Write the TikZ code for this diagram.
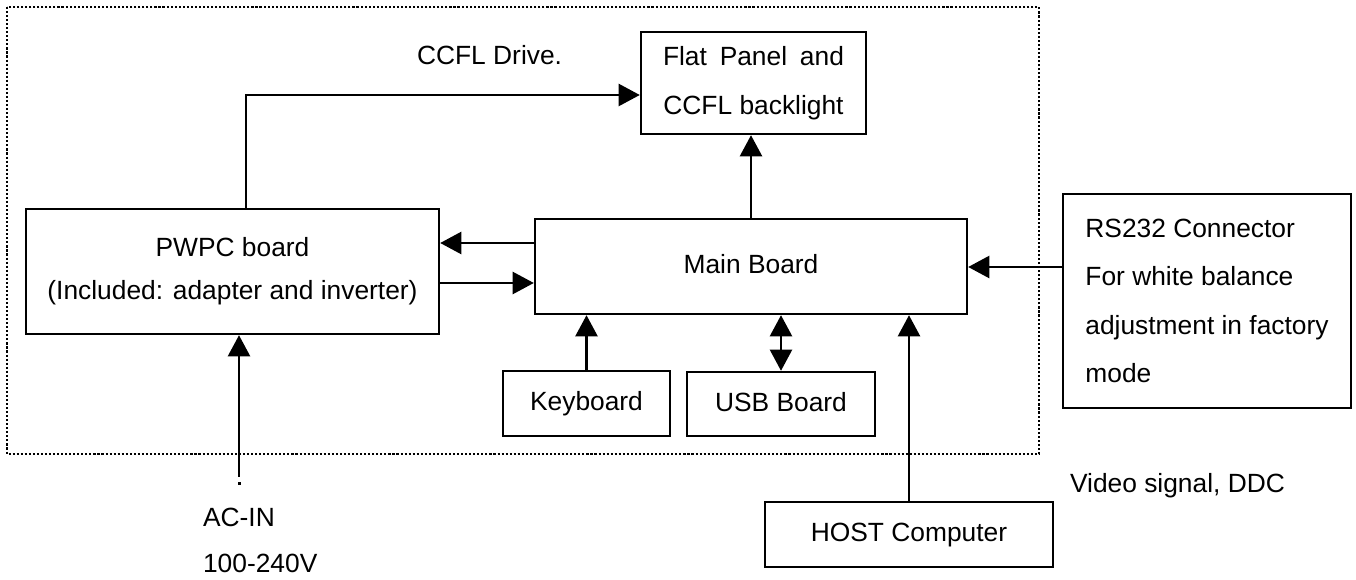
\documentclass[tikz,border=0pt]{standalone}
\usepackage{fontspec}
\setmainfont{Liberation Sans}
\usetikzlibrary{arrows.meta}
\begin{document}
\begin{tikzpicture}[x=0.02cm, y=-0.02cm, line width=1.4pt, >={Triangle[length=12pt,width=12.5pt]},
every node/.style={font=\fontsize{15}{18}\selectfont},
box node/.style={rectangle,draw,inner sep=0pt,align=center},
one line/.style={text height=1.6ex,text depth=0pt}]
\useasboundingbox (0,0) rectangle (1356,580);
\draw[line width=1.2pt, dash pattern=on 1.2pt off 1.1pt] (7,7) rectangle (1039,454);
\begin{scope}
\node[box node, minimum width=4.5cm, minimum height=2.04cm, font=\fontsize{15}{27.8}\selectfont] (flat) at (753.5,83) {\makebox[3.62cm][s]{Flat Panel and}\\CCFL backlight};
\node[box node, one line, minimum width=8.64cm, minimum height=1.9cm] (main) at (751,266.5) {Main Board};
\node[box node, minimum width=8.26cm, minimum height=2.5cm, font=\fontsize{15}{24.4}\selectfont] (pwpc) at (232.5,271.5) {PWPC board\\(Included: adapter and inverter)};
\node[box node, one line, minimum width=3.34cm, minimum height=1.3cm] (keyb) at (586.5,403.5) {Keyboard};
\node[box node, one line, minimum width=3.76cm, minimum height=1.28cm] (usb) at (781,404) {USB Board};
\node[box node, one line, minimum width=5.76cm, minimum height=1.3cm] (host) at (909,534.5) {HOST Computer};
\node[box node, minimum width=5.76cm, minimum height=4.28cm, align=left, font=\fontsize{15}{27.5}\selectfont] (rs) at (1207,301) {RS232 Connector\\For white balance\\adjustment in factory\\mode};
\node[anchor=base west] (ccfl) at (410,65) {CCFL Drive.};
\node[anchor=base west] (acin) at (196,527) {AC-IN};
\node[anchor=base west] (volt) at (196,573) {100-240V};
\node[anchor=base west] (video) at (1063,493) {Video signal, DDC};
\end{scope}
\begin{scope}
\coordinate (bend) at (246,95);
\coordinate (inlet) at (239,477);
\draw[->] (pwpc.north -| bend) -- (bend) -- (bend -| flat.west);
\draw[->] (main.north) -- (main.north |- flat.south);
\draw[->] ([yshift=0.47cm]main.west) -- ([yshift=0.47cm]main.west -| pwpc.east);
\draw[->] ([yshift=-0.23cm]pwpc.east) -- ([yshift=-0.23cm]pwpc.east -| main.west);
\draw[->] (keyb.north) -- (keyb.north |- main.south);
\draw[<->] (usb.north) -- (usb.north |- main.south);
\draw[->] (host.north) -- (host.north |- main.south);
\draw[->] ([yshift=0.68cm]rs.west) -- ([yshift=0.68cm]rs.west -| main.east);
\draw[->] (inlet) -- (inlet |- pwpc.south);
\fill (237.5,482.5) rectangle (240.5,485.5);
\end{scope}
\end{tikzpicture}
\end{document}
